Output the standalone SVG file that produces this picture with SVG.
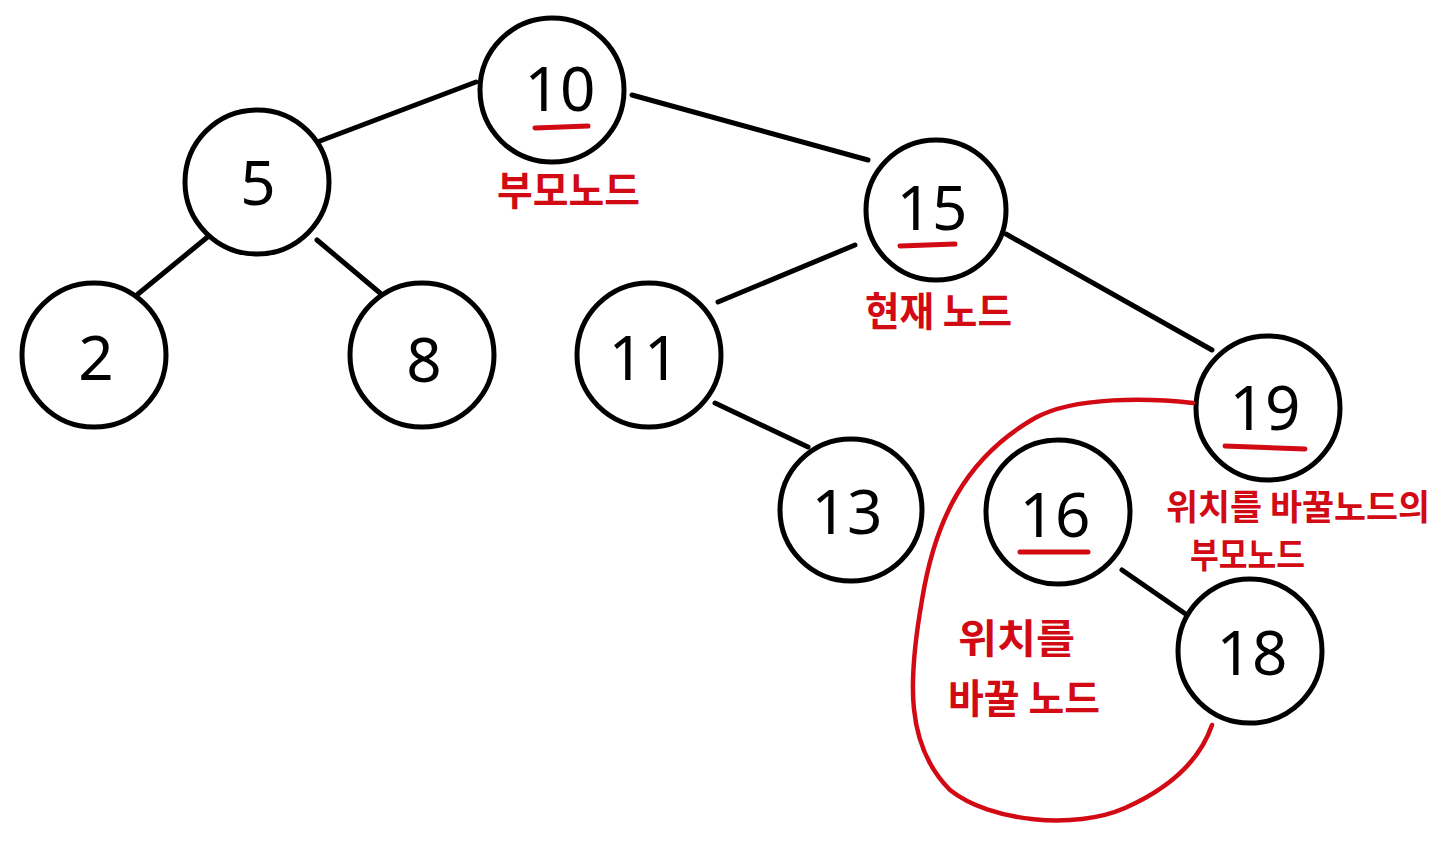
<svg xmlns="http://www.w3.org/2000/svg" width="1440" height="852" viewBox="0 0 1440 852">
<style>
.node circle{fill:#fff;stroke:#000;stroke-width:5}
.num{font-family:"Noto Sans","DejaVu Sans",sans-serif;font-size:62px;fill:#000;text-anchor:middle}
.edges line{stroke:#000;stroke-width:5;stroke-linecap:round}
.ul{stroke:#d20a14;stroke-width:5;stroke-linecap:round}
.lbl{font-family:"Noto Sans CJK KR","Noto Sans",sans-serif;font-size:40px;font-weight:bold;fill:#d20a14}
.sm{font-size:35px}
</style>
<rect width="1440" height="852" fill="#fff"/>
<g class="edges" id="connectors">
<line x1="320" y1="141" x2="476" y2="82"/>
<line x1="632" y1="95" x2="868" y2="160"/>
<line x1="210" y1="235" x2="138" y2="294"/>
<line x1="317" y1="240" x2="380" y2="293"/>
<line x1="855" y1="245" x2="718" y2="302"/>
<line x1="1006" y1="234" x2="1212" y2="350"/>
<line x1="715" y1="403" x2="808" y2="447"/>
<line x1="1122" y1="570" x2="1190" y2="617"/>
</g>
<g id="n10" class="node"><circle cx="552" cy="90" r="72"/><text class="num" x="560" y="111">10</text><line class="ul" x1="535" y1="128" x2="588" y2="126"/></g>
<g id="n5" class="node"><circle cx="257" cy="182" r="72"/><text class="num" x="258" y="205">5</text></g>
<g id="n15" class="node"><circle cx="936" cy="210" r="70"/><text class="num" x="932" y="230">15</text><line class="ul" x1="900" y1="246" x2="955" y2="244"/></g>
<g id="n2" class="node"><circle cx="94" cy="355" r="72"/><text class="num" x="96" y="380">2</text></g>
<g id="n8" class="node"><circle cx="422" cy="355" r="72"/><text class="num" x="424" y="382">8</text></g>
<g id="n11" class="node"><circle cx="649" cy="355" r="72"/><text class="num" x="644" y="380">11</text></g>
<g id="n19" class="node"><circle cx="1268" cy="408" r="72"/><text class="num" x="1265" y="430">19</text><line class="ul" x1="1225" y1="446" x2="1305" y2="449"/></g>
<g id="n13" class="node"><circle cx="851" cy="510" r="71"/><text class="num" x="847" y="534">13</text></g>
<g id="n16" class="node"><circle cx="1058" cy="512" r="72"/><text class="num" x="1055" y="537">16</text><line class="ul" x1="1020" y1="552" x2="1088" y2="552"/></g>
<g id="n18" class="node"><circle cx="1250" cy="651" r="72"/><text class="num" x="1252" y="675">18</text></g>
<path d="M1193,403 C1150,398 1075,396 1035,418 C965,458 935,520 922,600 C908,680 905,745 950,790 C990,822 1075,830 1125,808 C1170,788 1200,760 1212,725" fill="none" stroke="#d20a14" stroke-width="4.5" stroke-linecap="round"/>
<g id="labels">
<text class="lbl" x="497" y="205" textLength="143" lengthAdjust="spacingAndGlyphs">부모노드</text>
<text class="lbl" x="865" y="326" textLength="147" lengthAdjust="spacingAndGlyphs">현재 노드</text>
<text class="lbl sm" x="1166" y="520" textLength="264" lengthAdjust="spacingAndGlyphs">위치를 바꿀노드의</text>
<text class="lbl sm" x="1190" y="568" textLength="115" lengthAdjust="spacingAndGlyphs">부모노드</text>
<text class="lbl" x="958" y="653" textLength="117" lengthAdjust="spacingAndGlyphs">위치를</text>
<text class="lbl" x="948" y="713" textLength="152" lengthAdjust="spacingAndGlyphs">바꿀 노드</text>
</g>
</svg>
